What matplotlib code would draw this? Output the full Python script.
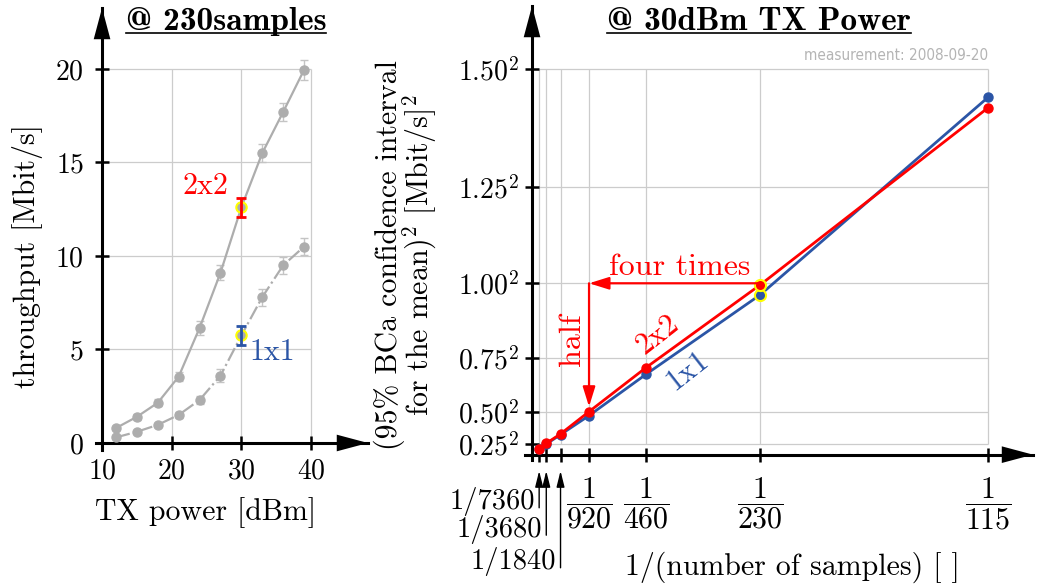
import matplotlib
matplotlib.use('Agg')
import matplotlib.pyplot as plt
from matplotlib.lines import Line2D

plt.rcParams['font.family'] = 'cmr10'
plt.rcParams['mathtext.fontset'] = 'cm'
plt.rcParams['axes.unicode_minus'] = False
plt.rcParams['axes.formatter.use_mathtext'] = True

# left panel: throughput over TX power, 230 samples
tx_power = [12, 15, 18, 21, 24, 27, 30, 33, 36, 39]
thr_2x2 = [0.8, 1.4, 2.15, 3.55, 6.15, 9.1, 12.6, 15.5, 17.7, 19.95]
err_2x2 = [0.12, 0.15, 0.18, 0.25, 0.35, 0.4, 0.5, 0.5, 0.5, 0.55]
thr_1x1 = [0.3, 0.6, 0.97, 1.5, 2.3, 3.6, 5.75, 7.8, 9.5, 10.5]
err_1x1 = [0.08, 0.1, 0.12, 0.15, 0.2, 0.35, 0.5, 0.45, 0.45, 0.45]
hl_power = 30
x_ticks_l = [10, 20, 30, 40]
y_ticks_l = [0, 5, 10, 15, 20]

# right panel: squared CI width over 1/samples, 30 dBm
samples = [7360, 3680, 1840, 920, 460, 230, 115]
ci2_2x2 = [0.033, 0.066, 0.121, 0.251, 0.508, 0.990, 2.024]
ci2_1x1 = [0.031, 0.062, 0.117, 0.228, 0.469, 0.932, 2.085]
ci_ticks = [0.25, 0.50, 0.75, 1.00, 1.25, 1.50]
hl_samples = 230

grey = '#adadad'
gridc = '#cccccc'
red = '#ff0000'
blue = '#2b55a6'
fs = 20      # tick labels
lfs = 21.5   # axis labels
tfs = 24     # titles

fig = plt.figure(figsize=(10.44, 5.87), dpi=100)


def axis_arrows(ax):
    kw = dict(arrowstyle='-|>,head_length=1.5,head_width=0.4', lw=0, color='k',
              mutation_scale=15, shrinkA=0, shrinkB=0)
    ax.annotate('', xy=(1, 0), xycoords=('axes fraction', 'data'),
                xytext=(0.9, 0), textcoords=('axes fraction', 'data'), arrowprops=kw)
    x0 = ax.spines['left'].get_position()[1]
    ax.annotate('', xy=(x0, 1), xycoords=('data', 'axes fraction'),
                xytext=(x0, 0.9), textcoords=('data', 'axes fraction'), arrowprops=kw)


def style(ax, x0):
    for s in ['top', 'right']:
        ax.spines[s].set_visible(False)
    ax.spines['left'].set_position(('data', x0))
    ax.spines['bottom'].set_position(('data', 0))
    for s in ['left', 'bottom']:
        ax.spines[s].set_linewidth(2.2)
    ax.tick_params(direction='inout', length=10, width=1.8, labelsize=fs)


# ---- left
ax1 = fig.add_axes([0.092, 0.2334, 0.2605, 0.753])
ax1.set_xlim(9.14, 48.18)
ax1.set_ylim(-0.374, 23.26)
style(ax1, 10)
ax1.vlines(x_ticks_l, y_ticks_l[0], y_ticks_l[-1], color=gridc, lw=0.9, zorder=0)
ax1.hlines(y_ticks_l, x_ticks_l[0], x_ticks_l[-1], color=gridc, lw=0.9, zorder=0)
ax1.set_xticks(x_ticks_l)
ax1.set_yticks(y_ticks_l)
ax1.tick_params(axis='x', pad=6)
ax1.tick_params(axis='y', pad=8)

ax1.errorbar(tx_power, thr_2x2, yerr=err_2x2, color=grey, ecolor='#c4c4c4', marker='o',
             ms=6.5, lw=1.6, elinewidth=1, capsize=3, zorder=3)
ax1.errorbar(tx_power, thr_1x1, yerr=err_1x1, color=grey, ecolor='#c4c4c4', marker='o',
             ms=6.5, lw=1.6, ls='-.', elinewidth=1, capsize=3, zorder=3)
i = tx_power.index(hl_power)
for vals, errs, c in [(thr_2x2, err_2x2, red), (thr_1x1, err_1x1, blue)]:
    ax1.plot(hl_power, vals[i], 'o', mfc=grey, mec='yellow', mew=1.5, ms=7.5, zorder=4)
    ax1.errorbar(hl_power, vals[i], yerr=errs[i], fmt='none', ecolor=c,
                 elinewidth=2, capsize=3.5, capthick=2, zorder=5)
ax1.text(24.8, 13.7, '2x2', color=red, fontsize=lfs, ha='center', va='center')
ax1.text(34.4, 4.85, '1x1', color=blue, fontsize=lfs, ha='center', va='center')
axis_arrows(ax1)

fig.text(28 / 1044, 1 - 256 / 587, 'throughput [Mbit/s]', rotation=90, fontsize=lfs,
         ha='center', va='center')
fig.text(206 / 1044, 1 - 513 / 587, 'TX power [dBm]', fontsize=lfs, ha='center', va='center')

# ---- right
inv_n = [1 / n for n in samples]
sq = [t ** 2 for t in ci_ticks]
ax2 = fig.add_axes([0.5029, 0.2164, 0.4866, 0.7734])
ax2.set_xlim(-0.0001335, 0.009554)
ax2.set_ylim(-0.031, 2.618)
style(ax2, 0)
ax2.vlines(inv_n, sq[0], sq[-1], color=gridc, lw=0.9, zorder=0)
ax2.hlines(sq, inv_n[0], inv_n[-1], color=gridc, lw=0.9, zorder=0)
ax2.set_yticks(sq)
ax2.set_yticklabels([r'$%.2f^2$' % t for t in ci_ticks])
ax2.set_xticks(inv_n)
ax2.set_xticklabels([r'$\dfrac{1}{%d}$' % n if n <= 920 else '' for n in samples])
ax2.tick_params(axis='x', pad=10, labelsize=lfs)
ax2.tick_params(axis='y', pad=4)

ax2.plot(inv_n, ci2_1x1, color=blue, marker='o', ms=6.5, lw=2, zorder=3)
ax2.plot(inv_n, ci2_2x2, color=red, marker='o', ms=6.5, lw=2, zorder=4)
j = samples.index(hl_samples)
ax2.plot(inv_n[j], ci2_1x1[j], 'o', mfc=blue, mec='yellow', mew=1.5, ms=8, zorder=5)
ax2.plot(inv_n[j], ci2_2x2[j], 'o', mfc=red, mec='yellow', mew=1.5, ms=8, zorder=5)

# four times / half annotation
akw = dict(arrowstyle='-|>,head_length=0.8,head_width=0.25', color=red, lw=1.6,
           mutation_scale=15, shrinkA=0, shrinkB=0)
ax2.annotate('', xy=(1 / 920, 1.0), xytext=(1 / 230, 1.0), arrowprops=akw, zorder=6)
ax2.annotate('', xy=(1 / 920, 0.28), xytext=(1 / 920, 1.0), arrowprops=akw, zorder=6)
ax2.text(0.002815, 1.095, 'four times', color=red, fontsize=23, ha='center', va='center')
ax2.text(0.000763, 0.669, 'half', color=red, fontsize=23, rotation=90, ha='center', va='center')
ax2.text(0.002403, 0.70, '2x2', color=red, fontsize=lfs, rotation=38, ha='center', va='center')
ax2.text(0.002975, 0.49, '1x1', color=blue, fontsize=lfs, rotation=38, ha='center', va='center')

# small tick labels with arrows
for n, ybot in [(7360, -0.31), (3680, -0.47), (1840, -0.66)]:
    ax2.annotate('', xy=(1 / n, -0.095), xytext=(1 / n, ybot), annotation_clip=False,
                 arrowprops=dict(arrowstyle='-|>,head_length=0.8,head_width=0.2', color='k',
                                 lw=1.0, mutation_scale=12, shrinkA=0, shrinkB=0))
    ax2.annotate('1/%d' % n, xy=(1 / n, ybot), xytext=(-3, -1), textcoords='offset points',
                 ha='right', va='baseline', fontsize=20.5, annotation_clip=False)
axis_arrows(ax2)

ax2.text(1 / 115, 2.33, 'measurement: 2008-09-20', color='#b4b4b4', fontsize=11,
         family='DejaVu Sans', stretch='condensed', ha='right', va='center')

fig.text(389 / 1044, 1 - 255 / 587, '(95% BCa confidence interval', rotation=90,
         fontsize=lfs, ha='center', va='center')
fig.text(420 / 1044, 1 - 255 / 587, r'for the mean)$^2$ [Mbit/s]$^2$', rotation=90,
         fontsize=lfs, ha='center', va='center')
fig.text(792 / 1044, 1 - 567 / 587, '1/(number of samples) [ ]', fontsize=lfs,
         ha='center', va='center')

# underlined titles
titles = []
titles.append(fig.text(226 / 1044, 1 - 30 / 587, '@ 230samples', family='cmb10',
                       fontsize=tfs, ha='center', va='baseline'))
titles.append(fig.text(759 / 1044, 1 - 30 / 587, '@ 30dBm TX Power', family='cmb10',
                       fontsize=tfs, ha='center', va='baseline'))
fig.canvas.draw()
r = fig.canvas.get_renderer()
for t in titles:
    bb = t.get_window_extent(r).transformed(fig.transFigure.inverted())
    yl = t.get_position()[1] - 3 / 587
    fig.add_artist(Line2D([bb.x0, bb.x1], [yl, yl], color='k', lw=1.2,
                          transform=fig.transFigure))

fig.savefig('out.png', dpi=100)
